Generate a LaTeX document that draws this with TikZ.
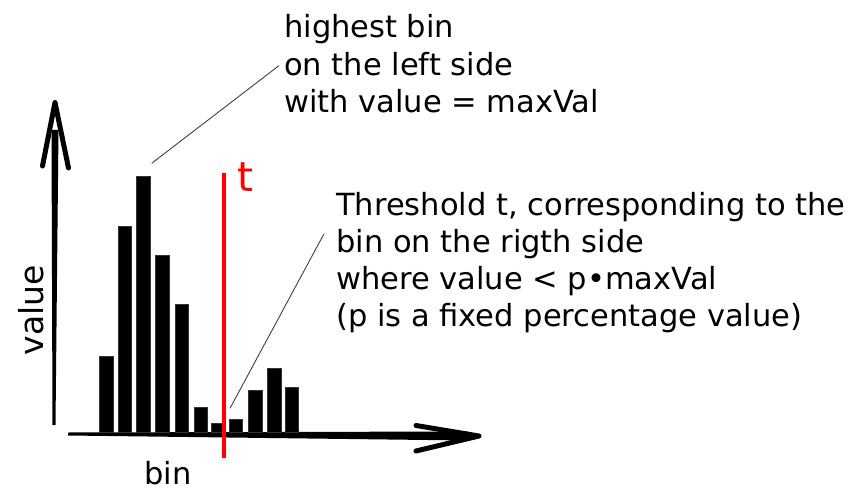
\documentclass[tikz,border=0pt]{standalone}
\usepackage{fontspec}
\setmainfont{DejaVu Sans}
\usetikzlibrary{positioning,calc}
\begin{document}
\begin{tikzpicture}[x=1pt,y=-1pt,
  bar/.style={fill=black,draw=black!80,line width=0.5pt},
  txt/.style={font=\fontsize{30.5}{37.2}\selectfont,align=left,inner sep=0pt,anchor=north west},
  pointer/.style={draw=black!75,line width=0.9pt}]
\useasboundingbox (0,0) rectangle (856,489);
% axes
\fill (68,432.5) -- (468,431.5) -- (468,440.5) -- (68,435.5) -- cycle;
\draw[line width=5pt,line join=round,line cap=round] (416,425.5) -- (479,436) -- (416,451);
\fill (52.5,425) -- (51.5,130) -- (58.5,130) -- (55.5,425) -- cycle;
\draw[line width=5pt,line join=round,line cap=round] (42.5,166) -- (55,102.5) -- (68.5,168);
% histogram
\fill[bar] (99.3,432) rectangle (113.3,356.7);
\fill[bar] (118.3,432) rectangle (131.7,226.7);
\fill[bar] (136,432) rectangle (150,176);
\fill[bar] (155,432) rectangle (169,255);
\fill[bar] (175,432) rectangle (188.7,304.3);
\fill[bar] (194,432) rectangle (207.7,407.3);
\fill[bar] (211.7,432) rectangle (224,423.3);
\fill[bar] (229.3,432) rectangle (242.7,419.3);
\fill[bar] (248.3,432) rectangle (262.3,390);
\fill[bar] (267.3,432) rectangle (281,368.3);
\fill[bar] (285,432) rectangle (298.3,387.3);
% threshold
\coordinate (ttop) at (224,172.7);
\coordinate (tbot) at (224,458);
\draw[red,line width=4pt] (ttop) -- (tbot);
\node[red,font=\fontsize{41}{48}\selectfont,anchor=base west,inner sep=0pt] (tlab) at (237,191.7) {t};
% labels
\node[txt] (hi) at (284,14.6) {highest bin\\on the left side\\with value = maxVal};
\node[txt] (th) at (336,191.8) {Threshold t, corresponding to the\\bin on the rigth side\\where value < p•maxVal\\(p is a fixed percentage value)};
\node[font=\fontsize{30.5}{37}\selectfont,anchor=base,inner sep=0pt] (bin) at (168,484) {bin};
\node[font=\fontsize{33}{40}\selectfont,rotate=90,anchor=base,inner sep=0pt] (val) at (43,310) {value};
% pointers
\coordinate (peak) at (151.7,163.3);
\coordinate (low) at (230,408.3);
\draw[pointer] (peak) -- ($(hi.north west)+(-5,51)$);
\draw[pointer] (low) -- ($(th.north west)+(-12,42)$);
\end{tikzpicture}
\end{document}
